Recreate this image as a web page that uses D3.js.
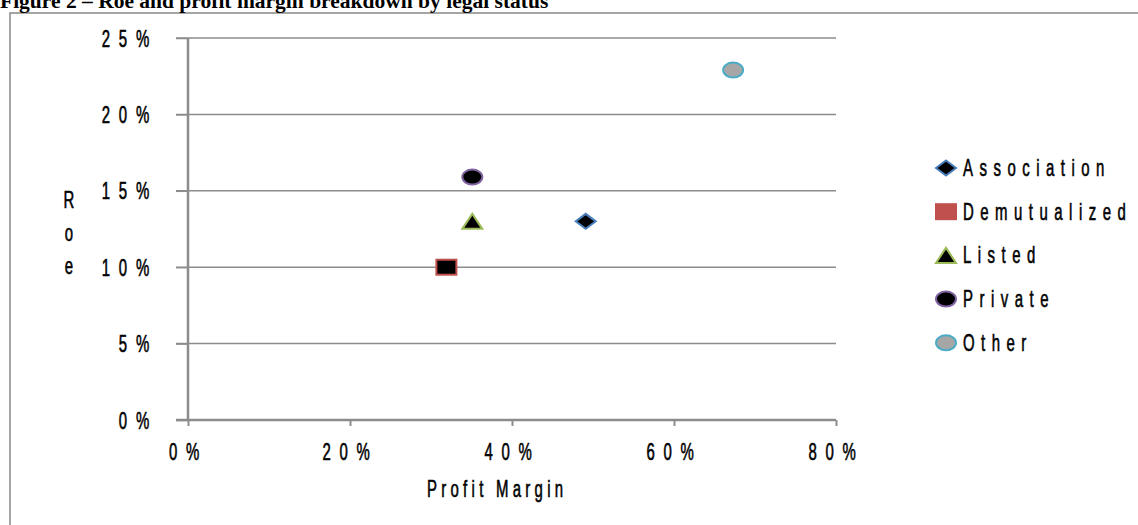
<!DOCTYPE html>
<html><head><meta charset="utf-8">
<script src="https://cdn.jsdelivr.net/npm/d3@7"></script>
<style>body{margin:0;background:#fff;} svg{display:block;}</style>
</head><body>
<svg id="c" width="1138" height="525"></svg>
<script>
const categories = ["Association","Demutualized","Listed","Private","Other"];
const profitMargin = [0.491, 0.319, 0.351, 0.351, 0.673];
const roe = [0.130, 0.100, 0.130, 0.159, 0.229];
const xTicks = [0, 0.2, 0.4, 0.6, 0.8];
const yTicks = [0, 0.05, 0.10, 0.15, 0.20, 0.25];
const titleText = "Figure 2 \u2013 Roe and profit margin breakdown by legal status";

const svg = d3.select("#c");
const F = "'Liberation Sans',Arial,sans-serif";
const FS = 23, SX = 0.65;
const x = d3.scaleLinear().domain([0,0.8]).range([188,836]);
const y = d3.scaleLinear().domain([0,0.25]).range([420,38]);

function narrowText(px, py, str, spacing, anchor){
  return svg.append("text").attr("transform",`translate(${px},${py}) scale(${SX},1)`)
    .attr("font-family",F).attr("font-size",FS).attr("fill","#000")
    .attr("stroke","#000").attr("stroke-width",0.6)
    .attr("letter-spacing",spacing+"px").attr("text-anchor",anchor||"start").text(str);
}

svg.append("rect").attr("x",10).attr("y",13).attr("width",1140).attr("height",520)
  .attr("fill","none").attr("stroke","#888").attr("stroke-width",1.5);

svg.append("text").attr("x",0).attr("y",8).attr("font-family","'Liberation Serif','Times New Roman',serif")
  .attr("font-weight","bold").attr("font-size",21.5).attr("fill","#000").text(titleText);

// gridlines
svg.append("g").selectAll("line").data(yTicks.slice(1)).join("line")
  .attr("x1",176).attr("x2",836).attr("y1",d=>y(d)).attr("y2",d=>y(d))
  .attr("stroke","#8c8c8c").attr("stroke-width",1.5);

const fmt = d=>Math.round(d*100)+"%";

// y axis
const ya = svg.append("g").attr("transform","translate(188,0)")
  .call(d3.axisLeft(y).tickValues(yTicks).tickSize(12).tickFormat(fmt));
ya.select(".domain").attr("stroke","#8c8c8c").attr("stroke-width",2.5).attr("d","M0,"+y(0.25)+"V"+(y(0)+1));
ya.selectAll(".tick line").attr("stroke","#8c8c8c").attr("stroke-width",1.5);
ya.selectAll(".tick text").attr("x",null).attr("dy",null)
  .attr("transform",`translate(-30,8) scale(${SX},1)`)
  .attr("font-family",F).attr("font-size",FS).attr("fill","#000")
  .attr("stroke","#000").attr("stroke-width",0.6)
  .attr("letter-spacing","13.5px").attr("text-anchor","end");

// x axis
const xa = svg.append("g").attr("transform","translate(0,"+y(0)+")")
  .call(d3.axisBottom(x).tickValues(xTicks).tickSize(6).tickFormat(fmt));
xa.select(".domain").attr("stroke","#8c8c8c").attr("stroke-width",2.5).attr("d","M176,0H"+836);
xa.selectAll(".tick line").attr("stroke","#8c8c8c").attr("stroke-width",2);
xa.selectAll(".tick text").attr("y",null).attr("dy",null)
  .attr("transform",`translate(0,40) scale(${SX},1)`)
  .attr("font-family",F).attr("font-size",FS).attr("fill","#000")
  .attr("stroke","#000").attr("stroke-width",0.6)
  .attr("letter-spacing","13.5px").attr("text-anchor","middle");

// axis titles
narrowText(427, 497, "Profit Margin", 6.6);
["R","o","e"].forEach((ch,i)=>narrowText(69, 208+i*33, ch, 0, "middle"));

const styles = {
  Association:{shape:"diamond", fill:"#000", stroke:"#4a7ebb", lfill:"#000"},
  Demutualized:{shape:"square", fill:"#000", stroke:"#c0504d", lfill:"#c0504d", lstroke:"#c0504d"},
  Listed:{shape:"triangle", fill:"#000", stroke:"#9bbb59", lfill:"#000"},
  Private:{shape:"circle", fill:"#000", stroke:"#8064a2", lfill:"#000"},
  Other:{shape:"circle", fill:"#a6a6a6", stroke:"#4bacc6", lfill:"#a6a6a6"}
};
function drawMarker(g, shape, fill, stroke){
  const w=10, h=7.5;
  if(shape==="diamond") g.append("path").attr("d",`M${-w},0L0,${-h}L${w},0L0,${h}Z`);
  else if(shape==="square") g.append("rect").attr("x",-w).attr("y",-h).attr("width",2*w).attr("height",2*h);
  else if(shape==="triangle") g.append("path").attr("d",`M0,${-h}L${w},${h}L${-w},${h}Z`);
  else g.append("ellipse").attr("rx",w).attr("ry",h);
  g.selectAll("*").attr("fill",fill).attr("stroke",stroke).attr("stroke-width",2);
}

categories.forEach((c,i)=>{
  const s=styles[c];
  const g=svg.append("g").attr("transform",`translate(${x(profitMargin[i])},${y(roe[i])})`);
  drawMarker(g,s.shape,s.fill,s.stroke);
});

// legend
categories.forEach((c,i)=>{
  const s=styles[c];
  const cy=168+i*43.7;
  const g=svg.append("g").attr("transform",`translate(946,${cy})`);
  drawMarker(g,s.shape,s.lfill,s.lstroke||s.stroke);
  narrowText(963, cy+8, c, 10);
});
</script>
</body></html>
